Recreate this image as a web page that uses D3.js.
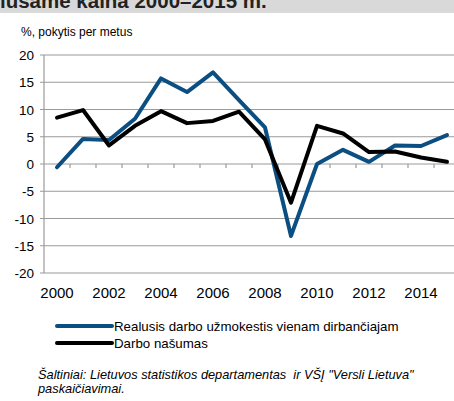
<!DOCTYPE html>
<html>
<head>
<meta charset="utf-8">
<script src="https://cdn.jsdelivr.net/npm/d3@7"></script>
<style>
  body { margin: 0; background: #fff; }
  svg { display: block; font-family: "Liberation Sans", Arial, sans-serif; }
</style>
</head>
<body>
<svg id="chart" width="454" height="401"></svg>
<script>
// yearly change, %
const years = d3.range(2000, 2016);
const wages = [-0.6, 4.6, 4.4, 8.3, 15.7, 13.2, 16.8, 11.7, 6.7, -13.2, 0.0, 2.6, 0.4, 3.4, 3.3, 5.3];
const productivity = [8.5, 9.9, 3.4, 7.0, 9.7, 7.5, 7.9, 9.6, 4.5, -7.1, 7.0, 5.6, 2.2, 2.3, 1.2, 0.4];
const yTicks = [-20, -15, -10, -5, 0, 5, 10, 15, 20];
const xLabelYears = [2000, 2002, 2004, 2006, 2008, 2010, 2012, 2014];

const series = [
  { name: "Realusis darbo užmokestis vienam dirbančiajam", values: wages, color: "#0b4f82" },
  { name: "Darbo našumas", values: productivity, color: "#000000" }
];

const svg = d3.select("#chart");

// header band, title is cut off at the top of the picture
svg.append("rect").attr("x", 0).attr("y", 0).attr("width", 454).attr("height", 13).attr("fill", "#d9d9d9");
svg.append("text")
  .attr("x", 0).attr("y", 8)
  .attr("font-size", 20.5).attr("font-weight", "bold").attr("fill", "#222")
  .text("lusame kaina 2000–2015 m.");

svg.append("text")
  .attr("x", 21).attr("y", 36)
  .attr("font-size", 12).attr("fill", "#000")
  .text("%, pokytis per metus");

const plotTop = 55, plotBottom = 273;
const x = d3.scaleBand().domain(years).range([44, 44 + 26 * years.length]);
const y = d3.scaleLinear().domain([-20, 20]).range([plotBottom, plotTop]);

// gridlines
svg.append("g").selectAll("line").data(yTicks).enter().append("line")
  .attr("x1", 40).attr("x2", 454)
  .attr("y1", (d) => y(d)).attr("y2", (d) => y(d))
  .attr("stroke", "#9a9a9a").attr("stroke-width", 1.2);

// y axis line
svg.append("line")
  .attr("x1", 44).attr("x2", 44)
  .attr("y1", y(20)).attr("y2", y(-20))
  .attr("stroke", "#9a9a9a").attr("stroke-width", 1.2);

// y labels
svg.append("g").selectAll("text").data(yTicks).enter().append("text")
  .attr("x", 34).attr("y", (d) => y(d) + 5)
  .attr("text-anchor", "end").attr("font-size", 13.5)
  .text((d) => d);

// category ticks on the zero line
const tickPos = years.slice(1).map((yr) => x(yr));
svg.append("g").selectAll("line").data(tickPos).enter().append("line")
  .attr("x1", (d) => d).attr("x2", (d) => d)
  .attr("y1", y(0)).attr("y2", y(0) + 4)
  .attr("stroke", "#9a9a9a").attr("stroke-width", 1.2);

// x labels
svg.append("g").selectAll("text").data(xLabelYears).enter().append("text")
  .attr("x", (d) => x(d) + x.bandwidth() / 2)
  .attr("y", 298)
  .attr("text-anchor", "middle").attr("font-size", 15)
  .text((d) => d);

const line = d3.line()
  .x((d, i) => x(years[i]) + x.bandwidth() / 2)
  .y((d) => y(d));

series.forEach((s) => {
  svg.append("path")
    .attr("d", line(s.values))
    .attr("fill", "none")
    .attr("stroke", s.color)
    .attr("stroke-width", 4)
    .attr("stroke-linejoin", "round")
    .attr("stroke-linecap", "round");
});

// legend
const legend = svg.append("g").selectAll("g").data(series).enter().append("g")
  .attr("transform", (d, i) => `translate(57, ${326 + i * 17})`);
legend.append("line")
  .attr("x1", 0).attr("x2", 55).attr("y1", 0).attr("y2", 0)
  .attr("stroke", (d) => d.color).attr("stroke-width", 4).attr("stroke-linecap", "round");
legend.append("text")
  .attr("x", 57).attr("y", 4.5)
  .attr("font-size", 13.3)
  .text((d) => d.name);

// source
const src = svg.append("text").attr("font-size", 12.8).attr("font-style", "italic");
src.append("tspan").attr("x", 38).attr("y", 379)
  .style("white-space", "pre")
  .text("Šaltiniai: Lietuvos statistikos departamentas  ir VŠĮ \"Versli Lietuva\"");
src.append("tspan").attr("x", 38).attr("y", 393).text("paskaičiavimai.");
</script>
</body>
</html>
